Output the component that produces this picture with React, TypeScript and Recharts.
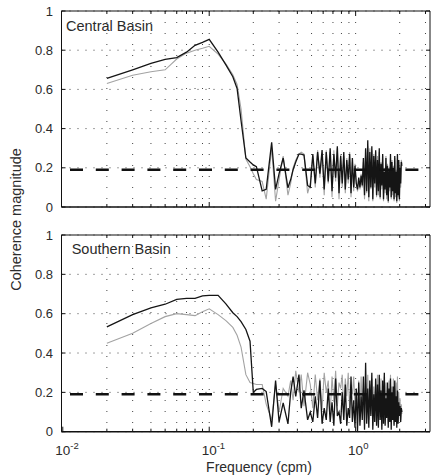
import React from 'react'
import { LineChart, Line, XAxis, YAxis, CartesianGrid, ReferenceLine } from 'recharts'

// frequency (cpm), shared by all four curves
const freq = [
  0.02, 0.03, 0.04, 0.05, 0.06, 0.07, 0.08, 0.09, 0.1, 0.115, 0.13, 0.145, 0.155, 0.165, 0.178, 0.19, 0.2,
  0.21, 0.23, 0.245, 0.267, 0.284, 0.3, 0.32, 0.345, 0.36, 0.374, 0.39, 0.41, 0.425, 0.444, 0.47,
  0.49, 0.51, 0.53, 0.55, 0.57, 0.59, 0.61, 0.63, 0.65, 0.67, 0.69, 0.71, 0.73, 0.75, 0.77, 0.79, 0.81, 0.83, 0.85, 0.87, 0.89, 0.91, 0.93, 0.95, 0.97, 0.99,
  1.01, 1.03, 1.05, 1.07, 1.09, 1.11, 1.13, 1.15, 1.17, 1.19, 1.21, 1.23, 1.25, 1.27, 1.29, 1.31, 1.33, 1.35, 1.37, 1.39,
  1.41, 1.43, 1.45, 1.47, 1.49, 1.51, 1.53, 1.55, 1.57, 1.59, 1.61, 1.63, 1.65, 1.67, 1.69, 1.71, 1.73, 1.75, 1.77, 1.79,
  1.81, 1.83, 1.85, 1.87, 1.89, 1.91, 1.93, 1.95, 1.97, 1.99, 2.01, 2.03, 2.05, 2.07,
]

// Central Basin
const centralDark = [
  0.656, 0.70, 0.733, 0.753, 0.762, 0.79, 0.825, 0.84, 0.855, 0.79, 0.725, 0.665, 0.605, 0.44, 0.25, 0.23, 0.215,
  0.206, 0.082, 0.09, 0.33, 0.09, 0.17, 0.25, 0.098, 0.14, 0.19, 0.23, 0.27, 0.27, 0.265, 0.11,
  0.10, 0.27, 0.12, 0.28, 0.17, 0.29, 0.09, 0.28, 0.13, 0.30, 0.08, 0.27, 0.15, 0.31, 0.07, 0.26, 0.12, 0.28, 0.09, 0.24, 0.14, 0.27, 0.07, 0.25, 0.10, 0.21,
  0.12, 0.09, 0.15, 0.10, 0.16, 0.11, 0.25, 0.06, 0.30, 0.08, 0.34, 0.05, 0.28, 0.10, 0.31, 0.04, 0.26, 0.12, 0.29, 0.06,
  0.24, 0.08, 0.30, 0.05, 0.22, 0.11, 0.27, 0.04, 0.18, 0.09, 0.25, 0.06, 0.21, 0.03, 0.19, 0.10, 0.27, 0.05, 0.23, 0.08,
  0.20, 0.04, 0.26, 0.07, 0.18, 0.03, 0.27, 0.06, 0.24, 0.04, 0.20, 0.12, 0.23, 0.21,
]
const centralLight = [
  0.63, 0.672, 0.69, 0.70, 0.755, 0.785, 0.80, 0.81, 0.82, 0.78, 0.73, 0.675, 0.625, 0.50, 0.245, 0.205, 0.17,
  0.14, 0.13, 0.04, 0.30, 0.03, 0.14, 0.26, 0.06, 0.12, 0.20, 0.24, 0.27, 0.28, 0.27, 0.07,
  0.12, 0.26, 0.10, 0.29, 0.15, 0.27, 0.06, 0.29, 0.12, 0.28, 0.05, 0.29, 0.13, 0.30, 0.04, 0.27, 0.10, 0.26, 0.07, 0.25, 0.12, 0.28, 0.05, 0.23, 0.08, 0.22,
  0.13, 0.08, 0.14, 0.09, 0.17, 0.10, 0.23, 0.04, 0.28, 0.07, 0.31, 0.03, 0.30, 0.09, 0.29, 0.03, 0.27, 0.10, 0.28, 0.05,
  0.26, 0.06, 0.28, 0.04, 0.23, 0.09, 0.26, 0.03, 0.20, 0.07, 0.26, 0.04, 0.22, 0.02, 0.20, 0.08, 0.25, 0.04, 0.24, 0.06,
  0.21, 0.03, 0.25, 0.05, 0.19, 0.02, 0.26, 0.05, 0.23, 0.03, 0.21, 0.10, 0.24, 0.22,
]

// Southern Basin
const southernDark = [
  0.533, 0.595, 0.63, 0.648, 0.673, 0.678, 0.678, 0.69, 0.693, 0.693, 0.65, 0.605, 0.585, 0.56, 0.52, 0.46, 0.20,
  0.215, 0.22, 0.204, 0.025, 0.26, 0.05, 0.146, 0.04, 0.20, 0.28, 0.18, 0.29, 0.12, 0.21, 0.06,
  0.10, 0.05, 0.18, 0.07, 0.26, 0.04, 0.12, 0.06, 0.22, 0.05, 0.15, 0.03, 0.27, 0.08, 0.10, 0.04, 0.20, 0.06, 0.24, 0.03, 0.12, 0.07, 0.28, 0.05, 0.16, 0.02,
  0.22, 0.0, 0.25, 0.03, 0.18, 0.06, 0.28, 0.01, 0.35, 0.04, 0.22, 0.02, 0.26, 0.08, 0.30, 0.01, 0.19, 0.05, 0.27, 0.03,
  0.24, 0.02, 0.29, 0.06, 0.21, 0.01, 0.26, 0.04, 0.30, 0.03, 0.17, 0.07, 0.25, 0.02, 0.22, 0.05, 0.27, 0.01, 0.20, 0.06,
  0.23, 0.03, 0.26, 0.05, 0.18, 0.02, 0.21, 0.04, 0.15, 0.08, 0.13, 0.05, 0.12, 0.10,
]
const southernLight = [
  0.45, 0.50, 0.55, 0.585, 0.60, 0.595, 0.59, 0.61, 0.625, 0.595, 0.565, 0.53, 0.49, 0.43, 0.29, 0.25, 0.245,
  0.24, 0.24, 0.14, 0.06, 0.24, 0.10, 0.22, 0.18, 0.26, 0.16, 0.31, 0.20, 0.29, 0.13, 0.30,
  0.24, 0.12, 0.29, 0.16, 0.27, 0.11, 0.30, 0.20, 0.26, 0.09, 0.28, 0.15, 0.31, 0.13, 0.25, 0.22, 0.29, 0.10, 0.27, 0.18, 0.30, 0.12, 0.24, 0.19, 0.28, 0.14,
  0.20, 0.08, 0.26, 0.05, 0.28, 0.10, 0.22, 0.04, 0.25, 0.12, 0.29, 0.06, 0.24, 0.09, 0.27, 0.03, 0.23, 0.11, 0.26, 0.07,
  0.29, 0.05, 0.24, 0.10, 0.27, 0.03, 0.22, 0.08, 0.28, 0.06, 0.25, 0.11, 0.21, 0.04, 0.26, 0.09, 0.29, 0.05, 0.23, 0.07,
  0.27, 0.04, 0.22, 0.08, 0.25, 0.06, 0.28, 0.05, 0.20, 0.09, 0.17, 0.06, 0.14, 0.09,
]

const significance = 0.19
const yTicks = [0, 0.2, 0.4, 0.6, 0.8, 1]
const yTickLabels = ['0', '0.2', '0.4', '0.6', '0.8', '1']
const decades = [0.01, 0.1, 1]
const decadeExps = ['-2', '-1', '0']
const gridX = [
  0.02, 0.03, 0.04, 0.05, 0.06, 0.07, 0.08, 0.09, 0.1,
  0.2, 0.3, 0.4, 0.5, 0.6, 0.7, 0.8, 0.9, 1, 2, 3,
]
const xDomain = [0.0098, 3.22]

const FONT = '"Liberation Sans", Arial, Helvetica, sans-serif'
const INK = '#111'
const TEXT = '#2b2b2b'
const DOT = '#444'

const decadeIndex = (v: number) => decades.findIndex((d) => Math.abs(d - v) < 1e-9)

function BottomTick(props: any) {
  const { x, y, payload, showLabels } = props
  const i = decadeIndex(payload.value)
  return (
    <g>
      <line x1={x} x2={x} y1={y} y2={y - (i >= 0 ? 5 : 3)} stroke={INK} strokeWidth={1} />
      {showLabels && i >= 0 && (
        <g fontFamily={FONT} fill={TEXT}>
          <text x={x} y={y + 23.3} textAnchor="middle" fontSize={13.5}>10</text>
          <text x={x + 7.5} y={y + 16.8} fontSize={9.5}>{decadeExps[i]}</text>
        </g>
      )}
    </g>
  )
}

function TopTick(props: any) {
  const { x, y, payload } = props
  const major = decadeIndex(payload.value) >= 0
  return <line x1={x} x2={x} y1={y} y2={y + (major ? 5 : 3)} stroke={INK} strokeWidth={1} />
}

function LeftTick(props: any) {
  const { x, y, index } = props
  return (
    <g>
      <line x1={x} x2={x + 4} y1={y} y2={y} stroke={INK} strokeWidth={1} />
      <text x={x - 8.5} y={y} dy="0.36em" textAnchor="end" fontSize={13} fontFamily={FONT} fill={TEXT}>
        {yTickLabels[index]}
      </text>
    </g>
  )
}

function RightTick(props: any) {
  const { x, y } = props
  return <line x1={x} x2={x - 4} y1={y} y2={y} stroke={INK} strokeWidth={1} />
}

function Panel({ dark, light, top, height, bottom, showLabels }: {
  dark: number[]; light: number[]; top: number; height: number; bottom: number; showLabels: boolean
}) {
  const rows = freq.map((f, i) => ({ f, dark: dark[i], light: light[i] }))
  return (
    <div style={{ position: 'absolute', left: 0, top }}>
      <LineChart width={431} height={height} data={rows} margin={{ top: 10, right: 0, bottom, left: 21.5 }}>
        <CartesianGrid vertical={false} stroke={DOT} strokeDasharray="1 7" />
        <CartesianGrid horizontal={false} verticalValues={gridX} stroke={DOT} strokeDasharray="1 10" />
        <Line type="linear" dataKey="light" stroke="#a3a3a3" strokeWidth={1.1} dot={false} isAnimationActive={false} />
        <Line type="linear" dataKey="dark" stroke="#151515" strokeWidth={1.3} dot={false} isAnimationActive={false} />
        <ReferenceLine y={significance} stroke={INK} strokeWidth={2.5} strokeDasharray="13 12.8" strokeDashoffset={17.3} />
        <XAxis
          dataKey="f" type="number" scale="log" domain={xDomain} allowDataOverflow
          ticks={showLabels ? [0.01, ...gridX] : gridX} interval={0}
          height={1} tickSize={0} tickMargin={0} tickLine={false} stroke={INK}
          axisLine={{ stroke: INK, strokeWidth: 1.5 }}
          tick={(p: any) => <BottomTick {...p} showLabels={showLabels} />}
        />
        <XAxis
          xAxisId="top" orientation="top" dataKey="f" type="number" scale="log" domain={xDomain} allowDataOverflow
          ticks={gridX} interval={0} height={1} tickSize={0} tickMargin={0} tickLine={false} stroke={INK}
          axisLine={{ stroke: INK, strokeWidth: 1 }}
          tick={(p: any) => <TopTick {...p} />}
        />
        <YAxis
          type="number" domain={[0, 1]} allowDataOverflow ticks={yTicks} interval={0}
          width={40} tickSize={0} tickMargin={0} tickLine={false} stroke={INK}
          axisLine={{ stroke: INK, strokeWidth: 1 }}
          tick={(p: any) => <LeftTick {...p} />}
        />
        <YAxis
          yAxisId="right" orientation="right" type="number" domain={[0, 1]} allowDataOverflow ticks={yTicks} interval={0}
          width={1} tickSize={0} tickMargin={0} tickLine={false} stroke={INK}
          axisLine={{ stroke: INK, strokeWidth: 1 }}
          tick={(p: any) => <RightTick {...p} />}
        />
      </LineChart>
    </div>
  )
}

export default function App() {
  return (
    <div style={{ position: 'absolute', left: 0, top: 0, width: 431, height: 476, background: '#fff' }}>
      <Panel dark={centralDark} light={centralLight} top={0} height={226} bottom={18} showLabels={false} />
      <Panel dark={southernDark} light={southernLight} top={224} height={252} bottom={43.3} showLabels />
      <svg width={431} height={476} style={{ position: 'absolute', left: 0, top: 0, pointerEvents: 'none' }} fontFamily={FONT} fill={TEXT}>
        <text x={66} y={31} fontSize={14.5}>Central Basin</text>
        <text x={71.7} y={254} fontSize={14.5}>Southern Basin</text>
        <text transform="translate(20.5,219.5) rotate(-90)" textAnchor="middle" fontSize={14.5}>Coherence magnitude</text>
        <text x={259} y={471.5} textAnchor="middle" fontSize={14}>Frequency (cpm)</text>
      </svg>
    </div>
  )
}
